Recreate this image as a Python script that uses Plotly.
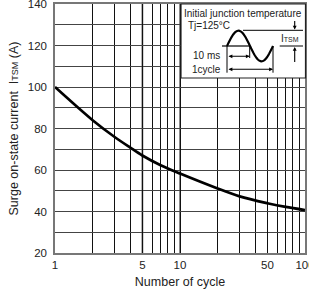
import numpy as np
import plotly.graph_objects as go

# ---- data ----
cycles = [1, 2, 3, 4, 5, 7, 10, 20, 30, 50, 70, 100]
itsm = [100, 84, 75.9, 70.8, 67.0, 62.3, 58.3, 51.1, 47.3, 44.0, 42.2, 40.7]

x_tickvals = [1, 5, 10, 50, 100]
x_ticktext = ["1", "5", "10", "50", "100"]
x_minor = [2, 3, 4, 6, 7, 8, 9, 20, 30, 40, 60, 70, 80, 90]
gray_vlines = [5, 10]
y_tickvals = [20, 40, 60, 80, 100, 120, 140]

W, H = 309, 293
ML, MR, MT, MB = 55, 4, 4, 40
PW, PH = W - ML - MR, H - MT - MB

FONT = "Arial, Liberation Sans, Helvetica, sans-serif"


def X(px):
    return (px - ML) / PW


def Y(py):
    return (H - MB - py) / PH


fig = go.Figure()
fig.add_trace(go.Scatter(x=cycles, y=itsm, mode="lines",
                         line=dict(color="black", width=2.7, shape="spline", smoothing=0.9),
                         hoverinfo="skip", showlegend=False))

shapes = []
# gray vertical grid lines
for v in gray_vlines:
    shapes.append(dict(type="line", xref="x", yref="paper", x0=v, x1=v, y0=0, y1=1,
                       line=dict(color="#8a8a8a", width=2), layer="below"))

# inset box
shapes.append(dict(type="rect", xref="paper", yref="paper", x0=X(181), x1=X(305.5), y0=Y(78), y1=Y(4),
                   fillcolor="white", line=dict(color="#222", width=1.2), layer="above"))

# sine wave
t = np.linspace(0, 1, 60)
sx = 227 + t * 46
sy = 46 - 15.3 * np.sin(2 * np.pi * t)
path = "M " + " L ".join(f"{X(a):.5f},{Y(b):.5f}" for a, b in zip(sx, sy))
shapes.append(dict(type="path", xref="paper", yref="paper", path=path,
                   line=dict(color="black", width=2.2)))


def seg(x0, y0, x1, y1, w=1):
    shapes.append(dict(type="line", xref="paper", yref="paper", x0=X(x0), x1=X(x1), y0=Y(y0), y1=Y(y1),
                       line=dict(color="black", width=w)))


seg(222, 46, 249.7, 46, 1.2)      # baseline
seg(243, 30.3, 303, 30.3, 1)      # peak reference
seg(279.7, 46, 303, 46, 1)        # zero reference
seg(227, 46, 227, 72.7, 1)
seg(249.7, 46, 249.7, 58, 1)
seg(273, 46, 273, 72.7, 1)

annotations = []


def arrow(hx, hy, tx, ty, both=False):
    annotations.append(dict(xref="paper", yref="paper", x=X(hx), y=Y(hy), ax=tx - hx, ay=ty - hy,
                            axref="pixel", ayref="pixel", text="", showarrow=True,
                            arrowhead=2, startarrowhead=2, arrowsize=0.7, startarrowsize=0.7,
                            arrowwidth=1.1, arrowcolor="black", standoff=0, startstandoff=0,
                            arrowside="end+start" if both else "end"))


arrow(249.7, 56.3, 227, 56.3, both=True)
arrow(273, 69.3, 227, 69.3, both=True)
arrow(294.7, 29.5, 294.7, 19.5)
arrow(294.7, 47, 294.7, 63.5)


def txt(s, px, py, anchor="left", size=10):
    annotations.append(dict(xref="paper", yref="paper", x=X(px), y=Y(py), text=s, showarrow=False,
                            xanchor=anchor, yanchor="middle", font=dict(family=FONT, size=size, color="#222")))


txt("Initial junction temperature", 243, 13.5, "center")
txt("Tj=125°C", 186, 26, "left")
txt("10 ms", 222, 55.5, "right")
txt("1cycle", 223, 69.5, "right")
txt("I<span style='font-size:7px'>TSM</span>", 289.5, 38, "center")

fig.update_layout(
    width=W, height=H, autosize=False,
    margin=dict(l=ML, r=MR, t=MT, b=MB),
    paper_bgcolor="white", plot_bgcolor="white",
    font=dict(family=FONT, size=11, color="#222"),
    shapes=shapes, annotations=annotations,
    xaxis=dict(type="log", range=[0, 2], tickvals=x_tickvals, ticktext=x_ticktext,
               showgrid=True, gridcolor="#111", gridwidth=1,
               minor=dict(tickvals=x_minor, showgrid=True, gridcolor="#111", gridwidth=1, ticks=""),
               ticks="",
               ticklabeloverflow="allow",
               showline=True, mirror=True, linecolor="#777", linewidth=1.5,
               tickfont=dict(size=11.5),
               title=dict(text="Number of cycle", font=dict(size=12.5), standoff=8),
               zeroline=False, fixedrange=True, automargin=False),
    yaxis=dict(range=[20, 140], tickvals=y_tickvals, showgrid=True, gridcolor="#444", gridwidth=1,
               minor=dict(dtick=10, showgrid=True, gridcolor="#444", gridwidth=1, ticks=""),
               ticks="outside", ticklen=4, tickcolor="rgba(0,0,0,0)",
               ticklabeloverflow="allow",
               showline=True, mirror=True, linecolor="#777", linewidth=1.5,
               tickfont=dict(size=11.5),
               title=dict(text="Surge on-state current  I<span style='font-size:9px'>TSM</span> (A)",
                          font=dict(size=12.5), standoff=6),
               zeroline=False, fixedrange=True, automargin=False),
)

fig.write_html("out.html", config=dict(displayModeBar=False),
               post_script="document.body.style.margin='0';document.body.style.padding='0';")
